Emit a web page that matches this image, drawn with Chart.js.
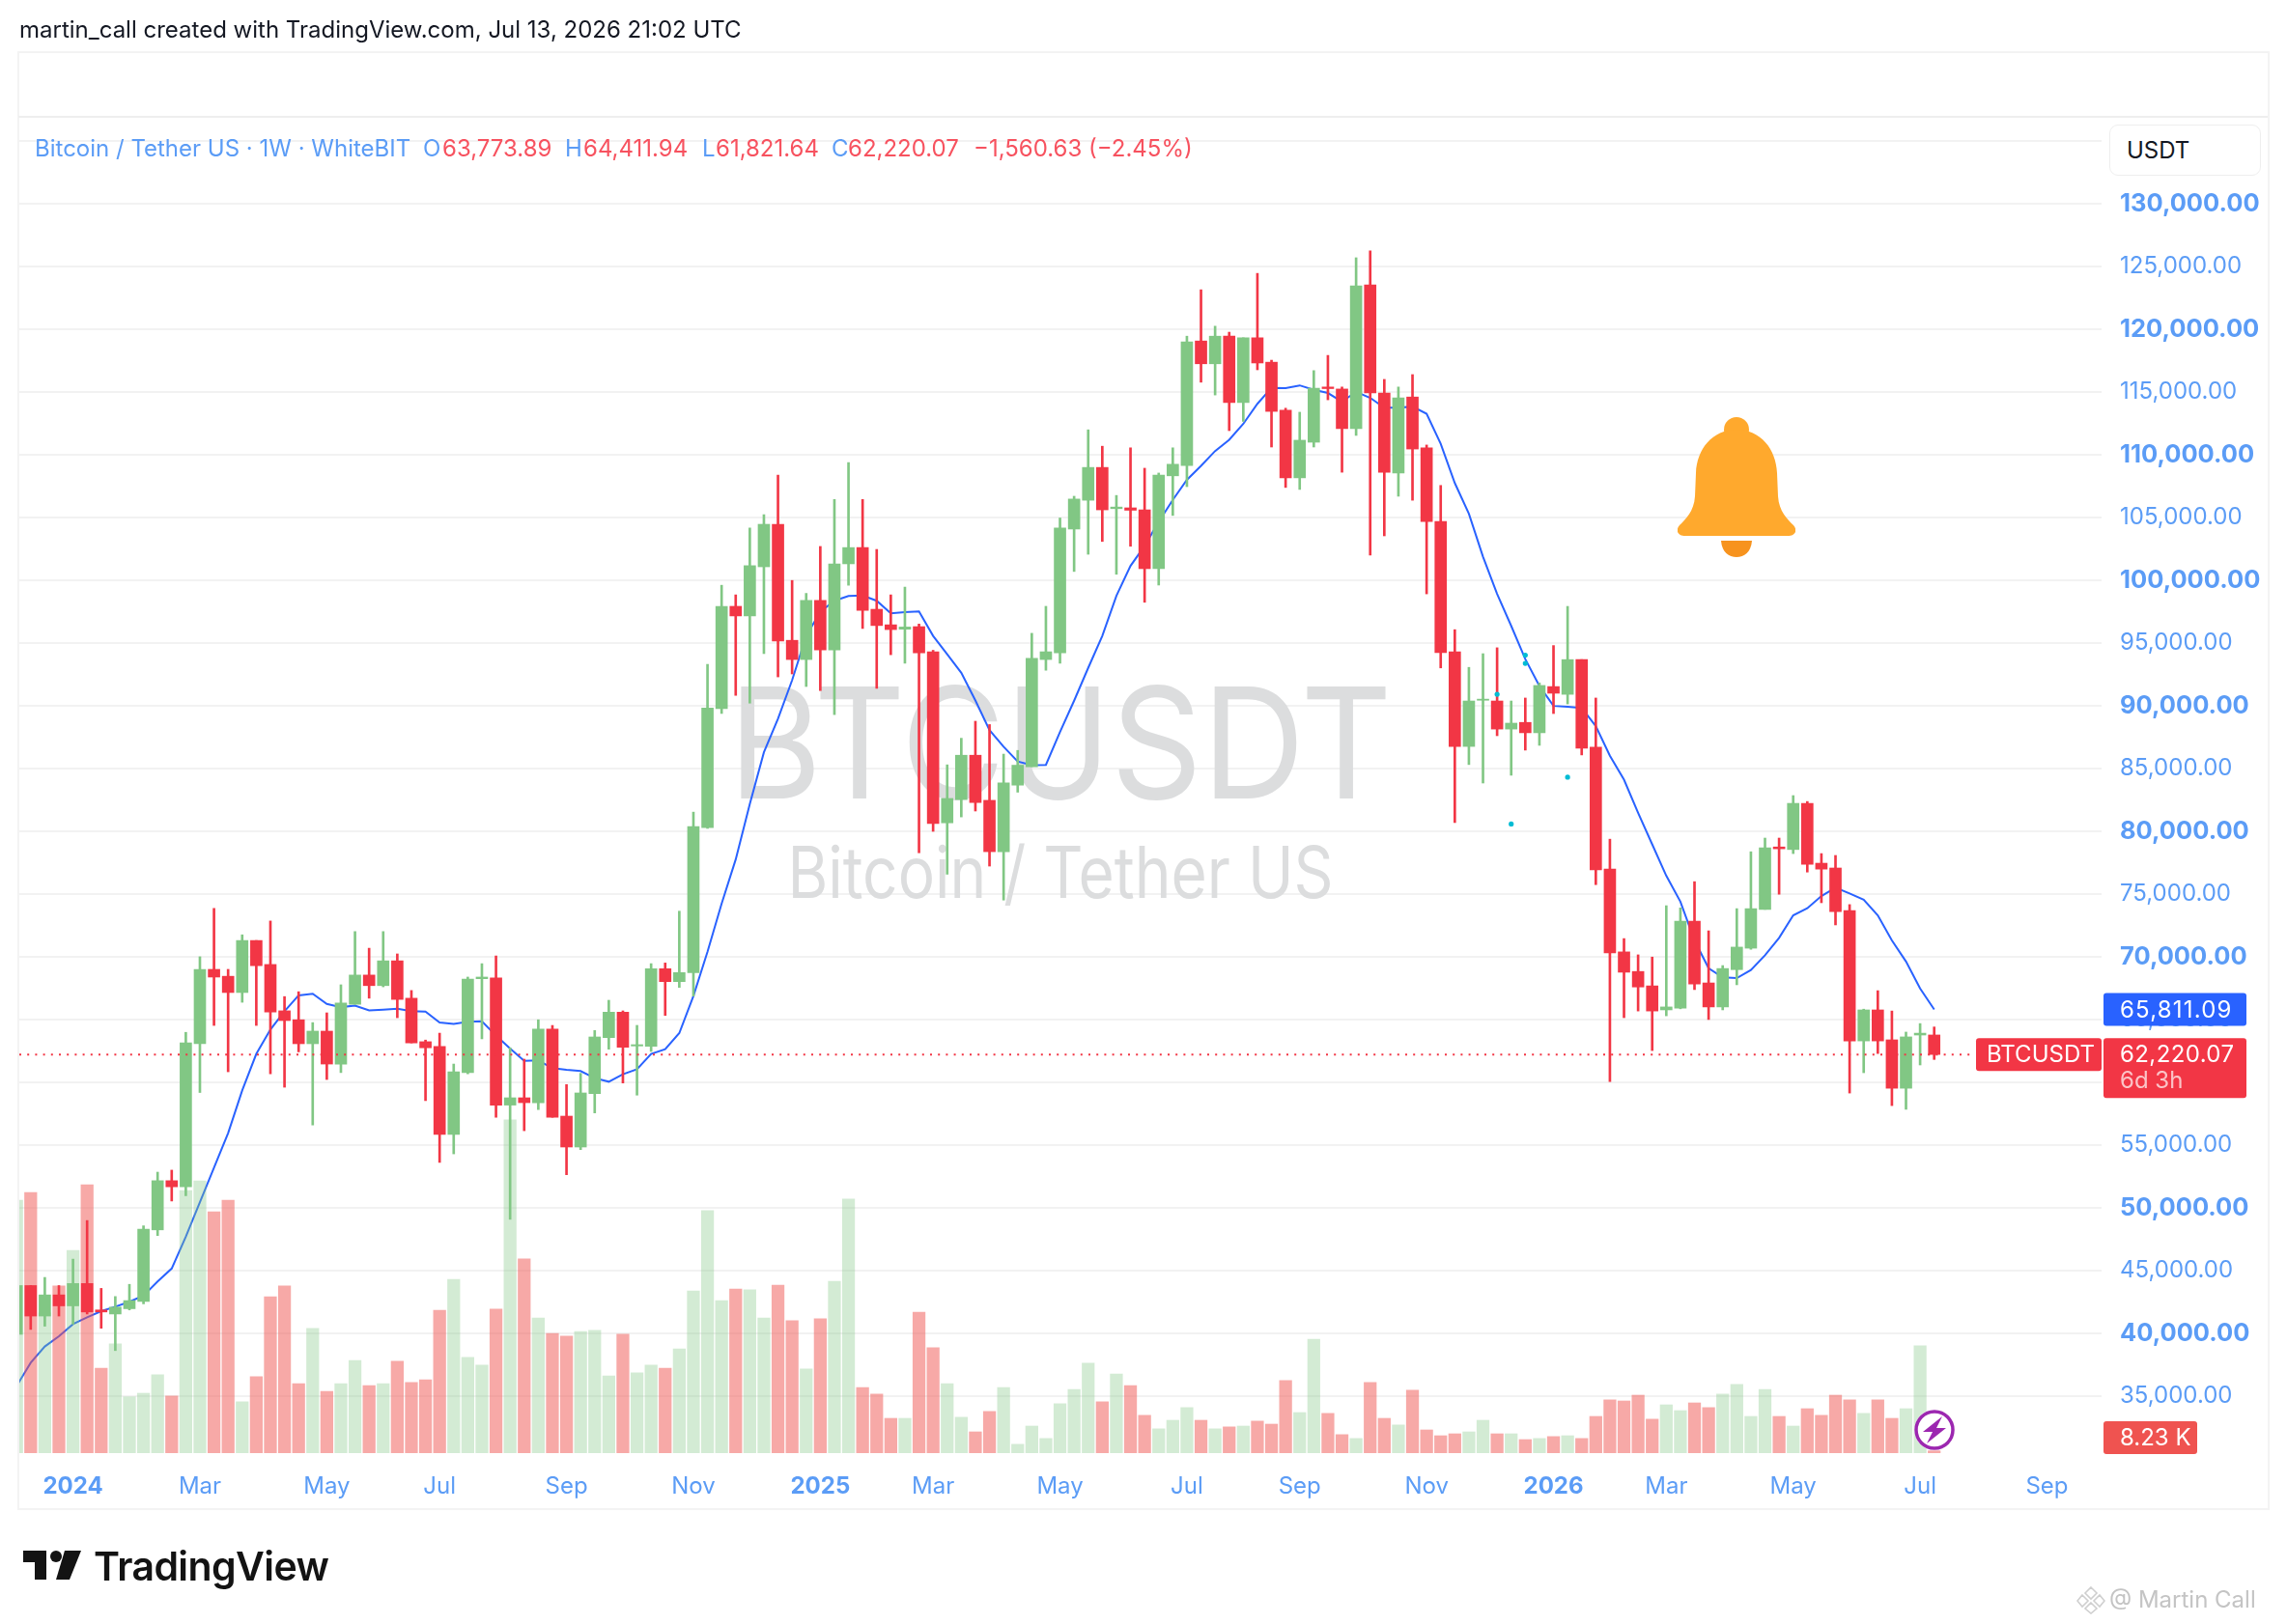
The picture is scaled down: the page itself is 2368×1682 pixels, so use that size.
<!DOCTYPE html>
<html>
<head>
<meta charset="utf-8">
<title>BTCUSDT 1W</title>
<script src="https://cdn.jsdelivr.net/npm/chart.js@4"></script>
<style>
  html, body { margin: 0; padding: 0; background: #fff; }
  body { width: 2368px; height: 1682px; position: relative; overflow: hidden; font-family: Inter, "Noto Sans", sans-serif; }
  canvas { position: absolute; left: 0; top: 0; }
  .caja { position: absolute; box-sizing: border-box; }
  .txt { position: absolute; white-space: pre; font-size: 24px; line-height: 30px; }
  .azul { color: #5b9cf6; }
  .rojo { color: #f7525f; }
  svg { position: absolute; }
</style>
</head>
<body>
<div class="caja" style="left:18px;top:53px;width:2332px;height:1511px;border:2px solid #f3f3f3"></div>
<div class="caja" style="left:19px;top:120px;width:2329px;height:2px;background:#eeeeee"></div>
<canvas id="grafico" width="2368" height="1682"></canvas>

<div class="txt" style="left:20px;top:16px;color:#131722">martin_call created with TradingView.com, Jul 13, 2026 21:02 UTC</div>
<div class="txt azul" style="left:36px;top:139px">Bitcoin / Tether US · 1W · WhiteBIT</div>
<div class="txt azul" style="left:438px;top:139px">O</div><div class="txt rojo" style="left:458px;top:139px">63,773.89</div>
<div class="txt azul" style="left:585px;top:139px">H</div><div class="txt rojo" style="left:604px;top:139px">64,411.94</div>
<div class="txt azul" style="left:727px;top:139px">L</div><div class="txt rojo" style="left:741px;top:139px">61,821.64</div>
<div class="txt azul" style="left:861px;top:139px">C</div><div class="txt rojo" style="left:878px;top:139px">62,220.07</div>
<div class="txt rojo" style="left:1008px;top:139px">−1,560.63 (−2.45%)</div>

<div class="caja" style="left:2184px;top:129px;width:157px;height:53px;border:1px solid #eeeeee;border-radius:9px;background:#fff"></div>
<div class="txt" style="left:2202px;top:141px;color:#131722">USDT</div>

<!-- campana -->
<svg style="left:1737px;top:432px" width="122" height="146" viewBox="0 0 122 146">
  <circle cx="61" cy="13" r="13" fill="#ffa92d"/>
  <path d="M61 13 C36 13 20 33 19 58 L18 82 C17 98 8 106 2 112 C-3 118 1 123 8 123 L114 123 C121 123 125 118 120 112 C114 106 105 98 104 82 L103 58 C102 33 86 13 61 13 Z" fill="#ffa92d"/>
  <path d="M45 128 L77 128 C76 140 69 145 61 145 C53 145 46 140 45 128 Z" fill="#f7931e"/>
</svg>

<!-- rayo sobre la última vela -->
<svg style="left:1978px;top:1456px" width="50" height="50" viewBox="0 0 50 50">
  <circle cx="25" cy="25" r="21" fill="#fff"/>
  <circle cx="25" cy="25" r="19" fill="#fff" stroke="#9c27b0" stroke-width="3.5"/>
  <path d="M33 11 L13 27 L23 27 L17 39 L37 23 L27 23 Z" fill="#9c27b0"/>
</svg>

<!-- logo -->
<svg style="left:24px;top:1606px" width="60" height="30" viewBox="0 0 60 30">
  <path d="M0 0 H24 V30 H12 V12 H0 Z" fill="#131313"/>
  <circle cx="34" cy="6" r="6" fill="#131313"/>
  <path d="M43 0 H60 L48 30 H34 Z" fill="#131313"/>
</svg>
<div class="txt" style="left:97px;top:1597px;font-size:41px;line-height:50px;font-weight:600;color:#131313;letter-spacing:-0.6px">TradingView</div>

<svg style="left:2150px;top:1642px" width="30" height="30" viewBox="0 0 30 30">
  <path d="M15 2 L21 8 L15 14 L9 8 Z M6 10 L12 16 L6 22 L1 16 Z M24 10 L29 16 L24 22 L18 16 Z M15 18 L21 24 L15 29 L9 24 Z" fill="none" stroke="#cfcfcf" stroke-width="1.6"/>
</svg>
<div class="txt" style="left:2184px;top:1642px;color:#c4c4c4">@ Martin Call</div>

<script>
// Velas semanales BTCUSDT, la primera queda cortada por el borde izquierdo
const aperturas = [39925,43810,41382,43066,42192,43972,41868,41544,41965,42548,48246,52165,51679,63077,69002,68452,67156,71301,69391,65699,64987,63077,64080,61458,66217,68549,67707,69682,66703,63238,62850,55856,60778,68257,68322,58187,58770,58381,64242,57308,54847,59103,63565,65590,62898,62872,69052,68026,68744,80291,89771,97925,97160,101075,104461,95217,93686,98397,94451,101311,102606,97690,96453,96100,96306,94304,80674,82528,86061,82469,78377,83677,85149,93686,94216,104081,106376,108991,105707,105771,105611,100925,108321,109150,119065,117248,119447,114155,119320,117375,113549,108162,110999,115398,115239,112083,123528,114920,108544,114601,110553,104687,94299,86762,90442,90383,88146,88676,87851,91531,90913,93680,86703,76988,70394,68833,67685,65772,65919,72837,67920,66007,68980,70688,73779,78754,78549,82228,77459,77077,73691,63299,65771,63387,59530,63769,63773.89];
const maximos = [44500,43810,44458,43810,45915,48991,43584,42936,43907,48570,52845,53006,63983,70006,73859,69002,71754,71301,72855,66833,67221,64760,65537,67772,72013,70686,72013,70232,67318,63368,63919,61458,68387,69455,70071,62753,61846,64987,64534,59821,60719,64129,66539,65693,64539,69457,69510,73637,81528,93303,99604,98838,104167,105227,108377,99986,98956,102695,106434,109378,106434,102459,98838,99456,96512,94422,85296,87415,88770,88505,86150,86444,95776,97925,104962,106695,111987,110680,106759,110553,108927,108544,110553,119447,123145,120244,119766,119320,124452,117535,113709,113390,116705,117917,115398,125696,126238,116004,115398,116387,110776,107556,96065,93062,94151,94623,90383,90619,91826,94799,97920,93680,90619,79373,71453,70158,69981,74073,73897,75987,72072,69304,73838,78371,79461,79461,82846,82375,78225,78077,74162,65830,67303,65683,64004,64682,64411.94];
const minimos = [38500,40314,40573,41382,40734,41544,40411,38630,41868,42353,47793,50545,50966,59191,64534,60842,66379,64534,60680,59612,62429,56601,60227,60778,66217,66703,67610,65149,63141,58543,53622,54302,60680,63465,57216,49088,56147,57831,57216,52642,54642,57565,62642,59949,58981,62462,65334,67564,66872,80232,89388,90830,90212,94157,92303,92538,91537,91213,89299,99604,96159,91390,94069,93392,78289,79997,76581,81145,81616,77229,74521,83117,85149,92832,93391,100702,102073,103093,100478,102710,98247,99618,105165,107460,115781,114761,111923,112657,116769,110616,107396,107237,110616,114378,108608,111541,102009,103539,106695,106376,98917,93019,80697,85319,83847,87616,84466,86468,86850,89382,90148,86085,75752,60060,65153,65683,62533,65300,65860,67390,65006,65772,67773,70600,73779,74986,78225,76752,74309,72542,59147,60767,62297,58147,57852,61385,61821.64];
const cierres = [43810,41382,43066,42192,43972,41706,41706,42094,42612,48311,52165,51679,63141,69002,68387,67156,71301,69294,65602,64922,63077,64080,61458,66315,68549,67707,69682,66606,63141,62753,55856,60842,68225,68387,58187,58770,58381,64242,57216,54847,59155,63616,65590,62795,63000,69052,68026,68744,80379,89829,97925,97160,101164,104461,95158,93686,98397,94451,101311,102606,97601,96394,96071,96277,94216,80615,82617,86061,82293,78377,83853,85266,93775,94304,104167,106472,108991,105611,105834,105580,100925,108385,109245,119001,117248,119447,114155,119320,117311,113454,108162,111158,115303,115271,112083,123464,114920,108608,114538,110457,104687,94230,86762,90383,90530,88146,88617,87851,91620,91001,93680,86615,76929,70305,68774,67597,65683,66007,72837,67832,66007,69068,70776,73838,78695,78607,82228,77371,76988,73602,63299,65771,63299,59530,63621,63917,62220.07];

// Volumen en miles
const volumenes = [917,945,508,606,735,973,308,396,204,217,284,207,952,987,875,917,186,277,567,606,252,452,224,252,336,245,252,333,256,266,518,630,347,319,522,1208,704,490,434,424,441,445,280,431,291,319,308,378,588,879,553,595,592,490,609,480,305,487,623,921,238,214,126,126,511,382,252,130,77,151,238,32,98,53,179,231,326,186,287,245,137,88,119,165,119,88,95,98,116,105,263,147,413,144,67,53,256,126,102,228,84,63,70,77,119,70,70,49,53,60,63,53,133,193,189,210,123,175,154,182,165,214,249,133,231,133,98,161,137,210,193,144,193,126,161,389,8.23];

// Media móvil
const mediaMovil = [35813,37658,38954,39763,40734,41285,41771,42127,42516,43001,44135,45170,47696,50448,53201,55953,59353,62267,64210,65667,66930,67059,66250,65991,66120,65732,65797,65861,65667,65635,64760,64663,64825,64858,63724,62688,61717,61749,61134,61000,60898,60334,60052,60642,61052,62257,62642,63924,66872,70399,74226,77759,82175,86297,88966,92037,95570,97484,98367,98750,98779,98367,97366,97454,97513,95570,94098,92626,90418,88063,86738,85561,85266,85296,87916,90405,93019,95569,98757,101148,102742,104655,106408,108002,109118,110298,111190,112465,114060,115335,115303,115526,115175,114920,114219,115016,114538,113741,113741,113836,113263,110872,107747,105293,101881,98917,96365,93720,91584,89990,89926,89831,88381,86026,84112,81463,78960,76458,74397,71306,69098,68362,68303,68950,70128,71512,73308,73867,74839,75516,75045,74544,73308,71306,69628,67479,65811.09];

// Puntos celestes sueltos
const puntosSemana = [106, 106, 104, 109, 105];
const puntosPrecio = [94040, 93380, 90920, 84310, 80580];

const preciosEje = [135000,130000,125000,120000,115000,110000,105000,100000,95000,90000,85000,80000,75000,70000,65000,60000,55000,50000,45000,40000,35000];
const preciosOcultos = [135000, 60000];
const semanasEje = [3,12,21,29,38,47,56,64,73,82,90,99,108,116,125,134,143];
const mesesEje = ['2024','Mar','May','Jul','Sep','Nov','2025','Mar','May','Jul','Sep','Nov','2026','Mar','May','Jul','Sep'];

const ultimoCierre = 62220.07;
const ultimaMedia = 65811.09;
const ultimoVolumen = 8.23;

const VERDE = '#81c784';
const ROJO = '#f23645';
const VOL_VERDE = 'rgba(129,199,132,0.35)';
const VOL_ROJO = 'rgba(239,83,80,0.5)';
const FUENTE = 'Inter, "Noto Sans", sans-serif';

const esVerde = aperturas.map((a, i) => cierres[i] >= a);
const semana = i => i - 1;

function caja(ctx, x, y, w, h, color) {
  ctx.fillStyle = color;
  ctx.beginPath();
  ctx.roundRect(x, y, w, h, 3);
  ctx.fill();
}

function fuenteTick(esNegrita, tamNegrita) {
  return { family: FUENTE, size: esNegrita ? tamNegrita : 24, weight: esNegrita ? 'bold' : 'normal' };
}

// Marca de agua detrás de las velas
const marcaAgua = {
  id: 'marcaAgua',
  beforeDatasetsDraw(chart) {
    const ctx = chart.ctx;
    ctx.save();
    ctx.fillStyle = '#dcddde';
    ctx.textAlign = 'center';
    ctx.textBaseline = 'alphabetic';
    ctx.font = '160px ' + FUENTE;
    ctx.fillText('BTCUSDT', 1098, 827, 687);
    ctx.font = '74px ' + FUENTE;
    ctx.fillText('Bitcoin / Tether US', 1098, 930, 565);
    ctx.restore();
  }
};

// Etiquetas de precio sobre el eje derecho
const etiquetas = {
  id: 'etiquetas',
  afterDraw(chart) {
    const ctx = chart.ctx;
    const y = chart.scales.y;
    const yCierre = y.getPixelForValue(ultimoCierre);
    const yMedia = y.getPixelForValue(ultimaMedia);
    ctx.save();
    ctx.textBaseline = 'middle';
    ctx.font = '24px ' + FUENTE;

    caja(ctx, 2178, yMedia - 17, 148, 34, '#2962ff');
    ctx.fillStyle = '#fff';
    ctx.letterSpacing = '1.2px';
    ctx.fillText('65,811.09', 2195, yMedia + 1);
    ctx.letterSpacing = '0px';

    caja(ctx, 2046, yCierre - 17, 130, 34, ROJO);
    ctx.fillStyle = '#fff';
    ctx.fillText('BTCUSDT', 2057, yCierre + 1);

    caja(ctx, 2178, yCierre - 17, 148, 62, ROJO);
    ctx.fillStyle = '#fff';
    ctx.letterSpacing = '0.4px';
    ctx.fillText('62,220.07', 2195, yCierre + 1);
    ctx.letterSpacing = '0px';
    ctx.fillStyle = 'rgba(255,255,255,0.7)';
    ctx.fillText('6d 3h', 2195, yCierre + 28);

    caja(ctx, 2178, 1472, 97, 34, '#ef5350');
    ctx.fillStyle = '#fff';
    ctx.fillText(ultimoVolumen + ' K', 2195, 1490);
    ctx.restore();
  }
};

new Chart(document.getElementById('grafico'), {
  type: 'bar',
  plugins: [marcaAgua, etiquetas],
  data: {
    datasets: [
      {
        type: 'line',
        data: [{ x: -0.808, y: ultimoCierre }, { x: 137.9, y: ultimoCierre }],
        borderColor: ROJO,
        borderWidth: 2,
        borderDash: [2, 6.2],
        pointRadius: 0,
        order: 1,
      },
      {
        type: 'scatter',
        data: puntosSemana.map((s, i) => ({ x: s, y: puntosPrecio[i] })),
        backgroundColor: '#00bcd4',
        borderWidth: 0,
        pointRadius: 2.6,
        order: 2,
      },
      {
        data: aperturas.map((a, i) => ({ x: semana(i), y: [a, cierres[i]] })),
        backgroundColor: esVerde.map(v => v ? VERDE : ROJO),
        barThickness: 12,
        grouped: false,
        order: 3,
      },
      {
        data: aperturas.map((a, i) => ({ x: semana(i), y: [minimos[i], maximos[i]] })),
        backgroundColor: esVerde.map(v => v ? VERDE : ROJO),
        barThickness: 2,
        grouped: false,
        order: 4,
      },
      {
        data: volumenes.map((v, i) => ({ x: semana(i), y: v })),
        yAxisID: 'yVol',
        backgroundColor: esVerde.map(v => v ? VOL_VERDE : VOL_ROJO),
        barThickness: 12.6,
        grouped: false,
        order: 5,
      },
      {
        type: 'line',
        data: mediaMovil.map((v, i) => ({ x: semana(i), y: v })),
        borderColor: '#2962ff',
        borderWidth: 2,
        tension: 0,
        pointRadius: 0,
        order: 6,
      },
    ],
  },
  options: {
    responsive: false,
    devicePixelRatio: 1,
    animation: false,
    layout: { padding: { left: 20, top: 121, right: 0, bottom: 0 } },
    plugins: { legend: { display: false }, tooltip: { enabled: false } },
    scales: {
      x: {
        type: 'linear',
        offset: false,
        min: -0.808,
        max: 146.87,
        grid: { display: false, offset: false },
        border: { display: false },
        afterFit(scale) { scale.height = 177; },
        afterBuildTicks(scale) { scale.ticks = semanasEje.map(value => ({ value })); },
        ticks: {
          autoSkip: false,
          maxRotation: 0,
          padding: 12,
          color: '#5b9cf6',
          callback: value => mesesEje[semanasEje.indexOf(value)],
          font: ctx => fuenteTick(ctx.tick && /^\d/.test(mesesEje[semanasEje.indexOf(ctx.tick.value)]), 24),
        },
      },
      y: {
        position: 'right',
        min: 30461.5,
        max: 136923,
        grid: { color: '#f2f2f2', lineWidth: 2, drawTicks: false },
        border: { display: false },
        afterFit(scale) { scale.width = 192; },
        afterBuildTicks(scale) { scale.ticks = preciosEje.map(value => ({ value })); },
        ticks: {
          autoSkip: false,
          padding: 19,
          color: '#5b9cf6',
          callback: value => preciosOcultos.includes(value)
            ? '' : value.toLocaleString('en-US', { minimumFractionDigits: 2 }),
          font: ctx => fuenteTick(ctx.tick && ctx.tick.value % 10000 === 0, 25.5),
        },
      },
      yVol: { display: false, min: 0, max: 4844 },
    },
  },
});
</script>
</body>
</html>
